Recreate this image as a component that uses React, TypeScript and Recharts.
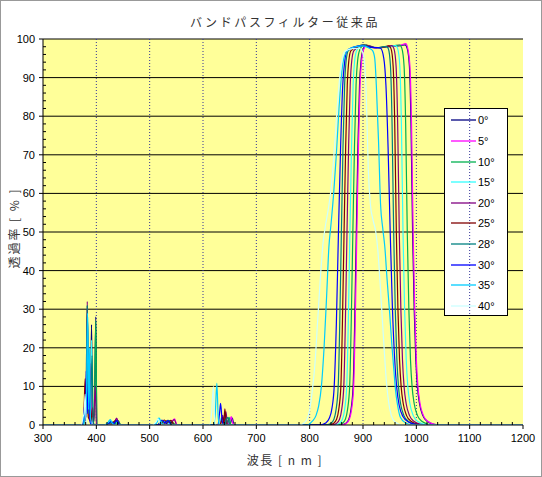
import React from 'react';
import { LineChart, Line, XAxis, YAxis, CartesianGrid, Legend } from 'recharts';

// ---- axis definitions ----
const X_MIN = 300;
const X_MAX = 1200;
const Y_MIN = 0;
const Y_MAX = 100;
const xTicks: number[] = Array.from({ length: 46 }, (_, i) => 300 + i * 20);
const yTicks: number[] = Array.from({ length: 51 }, (_, i) => i * 2);
const xGridValues = [400, 500, 600, 700, 800, 900, 1000, 1100];
const yGridValues = [10, 20, 30, 40, 50, 60, 70, 80, 90, 100];

// ---- series data: [wavelength nm, transmittance %] ----
const deg0: [number, number][] = [
  [300, 0], [374, 0], [378, 3], [380, 1], [383, 30], [386, 2], [389, 5], [391, 26], [393, 2], [396, 1], [399, 28], [401, 0],
  [420, 0], [428, 0.6], [434, 0.3], [440, 1.2], [446, 0], [515, 0], [525, 0.9], [532, 0.4], [540, 1.0], [548, 0],
  [640, 0], [648, 1.2], [651, 0.3], [655, 1.8], [658, 0],
  [857.5, 0], [867.5, 0.4], [873.5, 1.5], [877.5, 4], [881.5, 10], [884.5, 27], [887.5, 50], [890.5, 72], [893.5, 88], [896.5, 94.5], [900.5, 97.4],
  [906, 98.4], [915, 98.1], [925, 97.7], [940, 97.9], [955, 98.1], [970, 98.3], [979, 98.5],
  [983, 97.5], [987, 93], [990, 78], [993, 50], [996, 30], [999, 17], [1002, 10], [1006, 5.5], [1012, 2.5], [1021, 0.9], [1033, 0.2], [1048, 0], [1200, 0],
];
const deg5: [number, number][] = [
  [300, 0], [375, 0], [379, 6], [381, 2], [382, 16], [384, 3], [387, 4], [389, 14], [391, 1], [394, 0],
  [425, 0], [433, 0.5], [438, 1.6], [442, 0.5], [446, 0], [530, 0], [540, 0.7], [547, 1.6], [551, 0],
  [645, 0], [650, 1], [653, 2.2], [656, 0.4], [660, 0],
  [858.5, 0], [868.5, 0.4], [874.5, 1.5], [878.5, 4], [882.5, 10], [885.5, 27], [888.5, 50], [891.5, 72], [894.5, 88], [897.5, 94.5], [901.5, 97.4],
  [907, 98.3], [915, 98.0], [925, 97.6], [940, 97.9], [955, 98.2], [970, 98.4], [980, 98.8],
  [984, 97.5], [988, 93], [991, 78], [994, 50], [997, 30], [1000, 17], [1003, 10], [1007, 5.5], [1013, 2.5], [1022, 0.9], [1034, 0.2], [1049, 0], [1200, 0],
];
const deg10: [number, number][] = [
  [300, 0], [376, 0], [380, 8], [381.5, 3], [383, 31], [385, 4], [388, 6], [390, 2], [396, 3], [399, 27], [401, 0],
  [425, 0], [432, 0.8], [437, 0.4], [441, 1.1], [446, 0], [520, 0], [528, 0.8], [536, 1.1], [544, 0.5], [550, 0],
  [638, 0], [643, 1.5], [646, 0.4], [649, 2], [652, 0],
  [851, 0], [861, 0.4], [867, 1.5], [871, 4], [875, 10], [878, 27], [881, 50], [884, 72], [887, 88], [890, 94.5], [894, 97.2],
  [902, 98.5], [915, 97.9], [930, 97.7], [945, 98.0], [960, 98.3], [969, 98.4],
  [973, 97.5], [977, 93], [980, 78], [983, 50], [986, 30], [989, 17], [992, 10], [996, 5.5], [1002, 2.5], [1011, 0.9], [1023, 0.2], [1038, 0], [1200, 0],
];
const deg15: [number, number][] = [
  [300, 0], [377, 0], [381, 10], [382.5, 4], [384, 28], [386, 5], [389, 8], [391, 22], [393, 1], [396, 0],
  [418, 0], [426, 1.2], [430, 0.4], [436, 0.9], [442, 0], [510, 0], [517, 1.8], [521, 0.6], [530, 1.0], [540, 0],
  [630, 0], [634, 1.8], [637, 0.6], [641, 2.5], [644, 0],
  [845.5, 0], [855.5, 0.4], [861.5, 1.5], [865.5, 4], [869.5, 10], [872.5, 27], [875.5, 50], [878.5, 72], [881.5, 88], [884.5, 94.5], [888.5, 97.1],
  [900, 98.5], [915, 97.8], [930, 97.7], [945, 98.0], [958, 98.2], [961, 98.3],
  [965, 97.5], [969, 93], [972, 78], [975, 50], [978, 30], [981, 17], [984, 10], [988, 5.5], [994, 2.5], [1003, 0.9], [1015, 0.2], [1030, 0], [1200, 0],
];
const deg20: [number, number][] = [
  [300, 0], [376, 0], [379, 9], [381, 3], [383, 32], [385, 5], [388, 16], [390, 3], [395, 2], [398, 10], [400, 0],
  [428, 0], [434, 0.6], [438, 1.8], [442, 0.4], [446, 0], [525, 0], [533, 1.2], [540, 0.6], [546, 1.4], [551, 0],
  [632, 0], [637, 2.5], [640, 0.6], [643, 3.5], [646, 0],
  [840, 0], [850, 0.4], [856, 1.5], [860, 4], [864, 10], [867, 27], [870, 50], [873, 72], [876, 88], [879, 94.5], [883, 97],
  [900, 98.4], [912, 97.9], [925, 97.7], [940, 97.9], [954, 98.3],
  [958, 97.5], [962, 93], [965, 78], [968, 50], [971, 30], [974, 17], [977, 10], [981, 5.5], [987, 2.5], [996, 0.9], [1008, 0.2], [1023, 0], [1200, 0],
];
const deg25: [number, number][] = [
  [300, 0], [374, 0], [377, 4], [379, 12], [381, 3], [383, 6], [385, 2], [390, 1], [393, 4.5], [395, 0],
  [425, 0], [432, 0.7], [437, 1.3], [442, 0], [520, 0], [527, 1.3], [533, 0.7], [540, 1.2], [546, 0],
  [632, 0], [637, 2], [639, 0.5], [641, 4.2], [644, 0],
  [834.5, 0], [844.5, 0.4], [850.5, 1.5], [854.5, 4], [858.5, 10], [861.5, 27], [864.5, 50], [867.5, 72], [870.5, 88], [873.5, 94.5], [877.5, 97],
  [890, 98.0], [902, 98.4], [920, 97.8], [935, 97.8], [948.5, 98.2],
  [952.5, 97.5], [956.5, 93], [959.5, 78], [962.5, 50], [965.5, 30], [968.5, 17], [971.5, 10], [975.5, 5.5], [981.5, 2.5], [990.5, 0.9], [1002, 0.2], [1017, 0], [1200, 0],
];
const deg28: [number, number][] = [
  [300, 0], [376, 0], [380, 7], [381.5, 2], [383, 31], [385, 3], [389, 4], [392, 18], [394, 1], [397, 0],
  [422, 0], [428, 0.8], [433, 0.3], [438, 1.0], [444, 0], [515, 0], [522, 1.1], [529, 0.6], [536, 1.2], [542, 0],
  [640, 0], [644, 1.5], [647, 2], [650, 0],
  [829.5, 0], [839.5, 0.4], [845.5, 1.5], [849.5, 4], [853.5, 10], [856.5, 27], [859.5, 50], [862.5, 72], [865.5, 88], [868.5, 94.5], [872.5, 97],
  [885, 97.9], [900, 98.4], [915, 97.8], [930, 97.8], [943.5, 98.1],
  [947.5, 97.5], [951.5, 93], [954.5, 78], [957.5, 50], [960.5, 30], [963.5, 17], [966.5, 10], [970.5, 5.5], [976.5, 2.5], [985.5, 0.9], [997, 0.2], [1012, 0], [1200, 0],
];
const deg30: [number, number][] = [
  [300, 0], [375, 0], [378, 5], [380, 2], [381, 14], [383, 3], [386, 12], [388, 1], [391, 0],
  [420, 0], [427, 0.9], [433, 0.4], [438, 1.2], [444, 0], [515, 0], [523, 1.3], [529, 0.6], [535, 1.1], [541, 0],
  [628, 0], [631, 3], [633, 5.6], [636, 1], [639, 0],
  [820, 0], [830, 0.5], [837, 1.8], [842, 4.5], [846, 10], [850, 26], [854, 50], [858, 72], [862, 88], [866, 94.5], [870, 97],
  [882, 97.9], [897, 98.3], [912, 97.9], [927, 97.8], [933, 97.6],
  [939, 95], [943, 88], [947, 72], [951, 50], [955, 31], [959, 18], [963, 10], [968, 5], [975, 2.2], [985, 0.8], [999, 0.2], [1011, 0], [1200, 0],
];
const deg35: [number, number][] = [
  [300, 0], [376, 0], [379, 6], [381, 3], [383.5, 29], [385.5, 4], [387, 20], [389, 2], [392, 0],
  [415, 0], [422, 0.7], [426, 1.4], [430, 0.4], [436, 0], [508, 0], [514, 0.8], [518, 1.8], [522, 0.5], [530, 0],
  [620, 0], [623, 3], [626, 10.8], [628.5, 2], [631, 0],
  [795, 0], [805, 1], [812, 2.5], [817, 5], [822, 10], [827, 20], [832, 34], [836, 46], [840, 52], [845, 60], [850, 70], [855, 82], [860, 91], [865, 95.5], [872, 97.2],
  [885, 98.0], [900, 98.2], [912, 97.6],
  [918, 97], [922, 95], [925, 88], [929, 74], [933, 57], [937, 51], [941, 46], [945, 38], [950, 29], [954, 21], [958, 14], [961, 9], [965, 5], [970, 2], [980, 0.5], [995, 0], [1200, 0],
];
const deg40: [number, number][] = [
  [300, 0], [372, 0], [375, 2], [377, 3], [379, 8], [381, 1], [384, 0],
  [505, 0], [511, 0.6], [516, 1.6], [519, 0.5], [524, 0],
  [612, 0], [616, 3], [619.5, 10], [621.5, 2], [624, 0],
  [780, 0], [790, 0.6], [795, 1.5], [800, 4], [805, 9], [810, 16], [815, 27], [820, 38], [825, 47], [830, 52], [835, 56], [840, 61], [845, 69], [850, 79], [855, 88], [860, 94], [866, 96.8],
  [880, 97.5], [893, 97.6],
  [898, 97], [902, 95], [906, 86], [910, 66], [914, 57], [919, 53], [924, 50], [928, 45], [932, 37], [936, 28], [940, 19], [944, 11], [948, 6], [953, 2.5], [960, 0.8], [975, 0], [1200, 0],
];

const seriesNames = ['0°', '5°', '10°', '15°', '20°', '25°', '28°', '30°', '35°', '40°'];
const seriesColors = ['#000080', '#FF00FF', '#00B050', '#33FFFF', '#800080', '#800000', '#008080', '#0000FF', '#00CCFF', '#CCFFFF'];
const seriesData = [deg0, deg5, deg10, deg15, deg20, deg25, deg28, deg30, deg35, deg40];

// ---- layout ----
const W = 542;
const H = 477;
const MARGIN = { top: 39, right: 19, bottom: 22, left: 3 };
const Y_AXIS_W = 40;
const X_AXIS_H = 30;
const TICK_SIZE = 4;
const Y_TICK_MARGIN = 4;
const X_TICK_MARGIN = 5;
const PLOT_LEFT = MARGIN.left + Y_AXIS_W;
const PLOT_W = W - MARGIN.right - PLOT_LEFT;
const LEGEND_LEFT = 444;
const LEGEND_TOP = 108;
const LEGEND_W = 64;
const LEGEND_H = 208;

const NUM_FONT = "Arial, 'Liberation Sans', sans-serif";
const JP_FONT = "'Noto Sans CJK JP', 'Noto Sans', sans-serif";

const XTick = (props: any) => {
  const { x, y, payload } = props;
  const v = payload.value;
  const ay = y - TICK_SIZE - X_TICK_MARGIN;
  if (v % 100 === 0) {
    return (
      <g>
        <line x1={x} x2={x} y1={ay} y2={ay + TICK_SIZE} stroke="#000" />
        <text x={x} y={y} dy="0.72em" textAnchor="middle" fontSize={11} fontFamily={NUM_FONT} fill="#000">{v}</text>
      </g>
    );
  }
  return <line x1={x} x2={x} y1={ay} y2={ay - 3} stroke="#000" />;
};

const YTick = (props: any) => {
  const { x, y, payload } = props;
  const v = payload.value;
  const ax = x + TICK_SIZE + Y_TICK_MARGIN;
  if (v % 10 === 0) {
    return (
      <g>
        <line x1={ax - TICK_SIZE} x2={ax} y1={y} y2={y} stroke="#000" />
        <text x={x} y={y} dy="0.36em" textAnchor="end" fontSize={11} fontFamily={NUM_FONT} fill="#000">{v}</text>
      </g>
    );
  }
  return <line x1={ax} x2={ax + 3} y1={y} y2={y} stroke="#000" />;
};

const renderLegend = (props: any) => {
  const raw: any[] = props && props.payload ? props.payload : [];
  const payload = [...raw].sort((a, b) => seriesNames.indexOf(a.value) - seriesNames.indexOf(b.value));
  const gridX = PLOT_LEFT + ((1100 - X_MIN) / (X_MAX - X_MIN)) * PLOT_W - (LEGEND_LEFT + 1);
  return (
    <div style={{ position: 'relative', width: LEGEND_W, height: LEGEND_H, boxSizing: 'border-box', border: '1px solid #000', background: '#fff' }}>
      <svg style={{ position: 'absolute', left: 0, top: 0 }} width={LEGEND_W - 2} height={LEGEND_H - 2}>
        <line x1={gridX} x2={gridX} y1={0} y2={LEGEND_H - 2} stroke="#333399" strokeDasharray="1 2" />
      </svg>
      {payload.map((e: any, i: number) => (
        <div key={i} style={{ position: 'absolute', left: 6, top: 11.3 + i * 20.6 - 7, height: 14, display: 'flex', alignItems: 'center' }}>
          <svg width={25} height={14}>
            <line x1={0} x2={25} y1={7} y2={7} stroke={e.color} strokeWidth={1.3} />
          </svg>
          <span style={{ marginLeft: 2, fontSize: 11, fontFamily: NUM_FONT, color: '#000', lineHeight: '14px' }}>{e.value}</span>
        </div>
      ))}
    </div>
  );
};

export default function App() {
  return (
    <div style={{ position: 'absolute', left: 0, top: 0, width: W, height: H, background: '#fff', overflow: 'hidden' }}>
      <LineChart width={W} height={H} margin={MARGIN}>
        <CartesianGrid horizontal={true} vertical={false} horizontalValues={yGridValues} stroke="#000" fill="#FFFF99" fillOpacity={1} />
        <CartesianGrid horizontal={false} vertical={true} verticalValues={xGridValues} stroke="#333399" strokeDasharray="1 2" />
        <XAxis
          dataKey="nm"
          type="number"
          domain={[X_MIN, X_MAX]}
          ticks={xTicks}
          interval={0}
          tickSize={TICK_SIZE}
          tickMargin={X_TICK_MARGIN}
          tickLine={false}
          axisLine={{ stroke: '#000' }}
          tick={<XTick />}
          height={X_AXIS_H}
          allowDataOverflow
        />
        <YAxis
          type="number"
          domain={[Y_MIN, Y_MAX]}
          ticks={yTicks}
          interval={0}
          tickSize={TICK_SIZE}
          tickMargin={Y_TICK_MARGIN}
          tickLine={false}
          axisLine={{ stroke: '#000' }}
          tick={<YTick />}
          width={Y_AXIS_W}
          allowDataOverflow
        />
        {seriesData.map((pts, i) => (
          <Line
            key={seriesNames[i]}
            data={pts.map(([nm, t]) => ({ nm, t }))}
            dataKey="t"
            name={seriesNames[i]}
            stroke={seriesColors[i]}
            strokeWidth={1.2}
            type="monotone"
            dot={false}
            activeDot={false}
            isAnimationActive={false}
          />
        ))}
        <Legend
          layout="vertical"
          align="center"
          verticalAlign="middle"
          wrapperStyle={{ left: LEGEND_LEFT, top: LEGEND_TOP, width: LEGEND_W, height: LEGEND_H, right: 'auto', bottom: 'auto' }}
          content={renderLegend}
        />
      </LineChart>
      <div style={{ position: 'absolute', left: 285, top: 21, transform: 'translate(-50%, -50%)', fontFamily: JP_FONT, fontSize: 12, letterSpacing: 2.6, color: '#333', whiteSpace: 'nowrap' }}>
        バンドパスフィルター従来品
      </div>
      <div style={{ position: 'absolute', left: 285, top: 459, transform: 'translate(-50%, -50%)', fontFamily: JP_FONT, fontSize: 12, letterSpacing: 1.5, color: '#333', whiteSpace: 'nowrap' }}>
        波長 [ n m ]
      </div>
      <div style={{ position: 'absolute', left: 13, top: 228, transform: 'translate(-50%, -50%) rotate(-90deg)', fontFamily: JP_FONT, fontSize: 12, letterSpacing: 2, color: '#333', whiteSpace: 'nowrap' }}>
        透過率 [ % ]
      </div>
      <div style={{ position: 'absolute', left: 0, top: 0, width: W, height: H, boxSizing: 'border-box', border: '1px solid #999', pointerEvents: 'none' }} />
    </div>
  );
}
